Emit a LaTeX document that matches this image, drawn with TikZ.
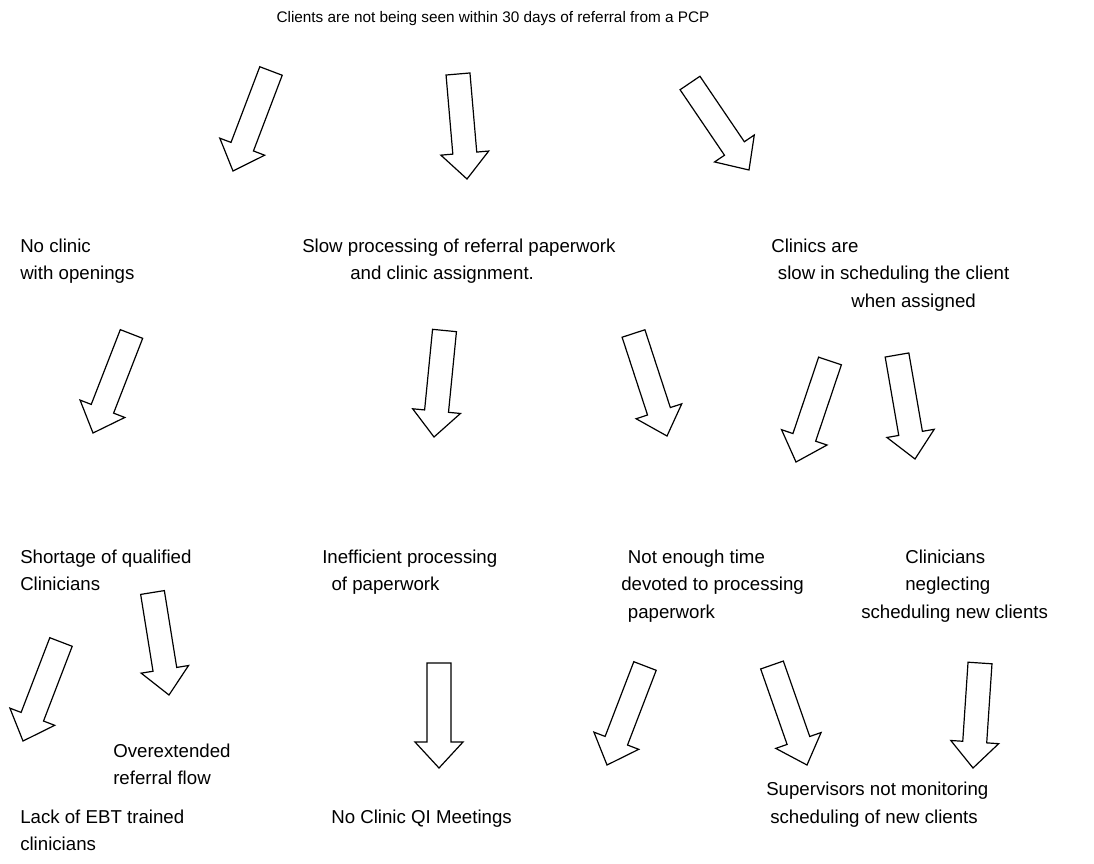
\documentclass[tikz,border=0pt]{standalone}
\usepackage{fontspec}
\setmainfont{Liberation Sans}
\usetikzlibrary{calc}

% hollow block arrow from tail (#1) to tip (#2)
\newcommand\blockarrow[2]{%
 \path ($(#2)!19.5pt!(#1)$) coordinate (hb);
 \draw[barrow] ($(#1)!9pt!90:(#2)$) -- ($(hb)!9pt!90:(#2)$) -- ($(hb)!18pt!90:(#2)$)
  -- (#2) -- ($(hb)!18pt!-90:(#2)$) -- ($(hb)!9pt!-90:(#2)$) -- ($(#1)!9pt!-90:(#2)$) -- cycle;}

\begin{document}
\begin{tikzpicture}[x=0.75pt,y=-0.75pt,
 txt/.style={anchor=base west,inner sep=0pt,align=left,font=\fontsize{14pt}{20.6pt}\selectfont},
 barrow/.style={draw=black,fill=white,line width=0.9pt,line join=miter}]
\useasboundingbox (0,0) rectangle (1094,863);

% base of each text node = baseline of its last line
\node[txt,anchor=base,font=\fontsize{11.5pt}{14pt}\selectfont] (top) at (493,23) {Clients are not being seen within 30 days of referral from a PCP};

\node[txt] (noclinic) at (20,279.5) {No clinic\\with openings};
\node[txt] (slow) at (302,279.5) {Slow processing of referral paperwork\\\hspace*{36pt}and clinic assignment.};
\node[txt] (clinics) at (771,307) {Clinics are\\\hspace*{5pt}slow in scheduling the client\\\hspace*{60pt}when assigned};

\node[txt] (shortage) at (20,590.5) {Shortage of qualified\\Clinicians};
\node[txt] (ineff) at (322,590.5) {Inefficient processing\\\hspace*{7pt}of paperwork};
\node[txt] (notime) at (621,618) {\hspace*{5pt}Not enough time\\devoted to processing\\\hspace*{5pt}paperwork};
\node[txt] (neglect) at (861,618) {\hspace*{33pt}Clinicians\\\hspace*{33pt}neglecting\\scheduling new clients};

\node[txt] (overext) at (113,784.5) {Overextended\\referral flow};
\node[txt] (ebt) at (20,850.5) {Lack of EBT trained\\clinicians};
\node[txt] (qi) at (331,823) {No Clinic QI Meetings};
\node[txt] (superv) at (766,823) {Supervisors not monitoring\\\hspace*{3pt}scheduling of new clients};

% arrow tails (t) and tips (p)
\coordinate (t1) at (271,71);    \coordinate (p1) at (233,171);
\coordinate (t2) at (458,74);    \coordinate (p2) at (467,179);
\coordinate (t3) at (690,83);    \coordinate (p3) at (749,170);
\coordinate (t4) at (131.5,334); \coordinate (p4) at (93,433);
\coordinate (t5) at (444.5,330.5); \coordinate (p5) at (434,437);
\coordinate (t6) at (633.5,333.5); \coordinate (p6) at (667,436);
\coordinate (t7) at (830,361);   \coordinate (p7) at (796,462);
\coordinate (t8) at (897,355);   \coordinate (p8) at (915,459);
\coordinate (t9) at (61,642);    \coordinate (p9) at (23,741);
\coordinate (t10) at (152.5,592.5); \coordinate (p10) at (169,695);
\coordinate (t11) at (439,663);  \coordinate (p11) at (439,768);
\coordinate (t12) at (645,666);  \coordinate (p12) at (607,765);
\coordinate (t13) at (772,665);  \coordinate (p13) at (807,765);
\coordinate (t14) at (980,663);  \coordinate (p14) at (973,768);

\foreach \n in {1,...,14} {\blockarrow{t\n}{p\n}}
\end{tikzpicture}
\end{document}
